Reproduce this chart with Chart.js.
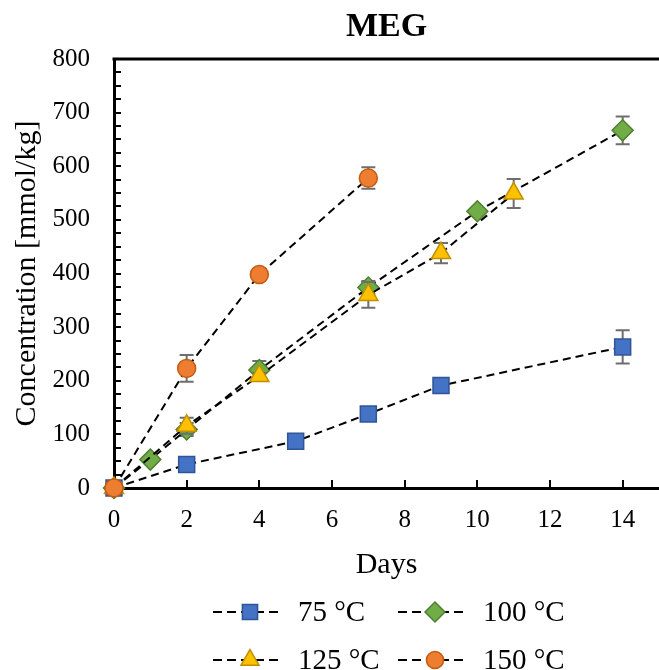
<!DOCTYPE html>
<html><head><meta charset="utf-8">
<script src="https://cdn.jsdelivr.net/npm/chart.js@4/dist/chart.umd.min.js"></script>
<style>html,body{margin:0;padding:0;background:#fff}canvas{display:block}</style>
</head><body>
<canvas id="c" width="659" height="670"></canvas>
<script>
// ---- data ----
const chartTitle = 'MEG';
const xAxisTitle = 'Days';
const yAxisTitle = 'Concentration [mmol/kg]';
const xTickValues = [0, 2, 4, 6, 8, 10, 12, 14];
const yTickValues = [0, 100, 200, 300, 400, 500, 600, 700, 800];
const seriesNames = ['75 °C', '100 °C', '125 °C', '150 °C'];

const days75 = [0, 2, 5, 7, 9, 14];
const conc75 = [0, 44, 87, 138, 191, 263];
const err75  = [0, 2, 3, 4, 4, 31];

const days100 = [0, 1, 2, 4, 7, 10, 14];
const conc100 = [0, 53, 109, 220, 374, 516, 667];
const err100  = [0, 0, 12, 17, 12, 5, 26];

const days125 = [0, 2, 4, 7, 9, 11];
const conc125 = [0, 116, 209, 360, 438, 549];
const err125  = [0, 15, 5, 24, 19, 27];

const days150 = [0, 2, 4, 7];
const conc150 = [0, 223, 398, 578];
const err150  = [0, 25, 4, 20];

// ---- build ----
const FONT = "'Liberation Serif', 'Times New Roman', serif";
const styles = [
  {pointStyle: 'rect', radius: 11.3, bg: '#4472C4', border: '#2F5597'},
  {pointStyle: 'rectRot', radius: 10.5, bg: '#70AD47', border: '#507E32'},
  {pointStyle: 'triangle', radius: 11, bg: '#FFC000', border: '#BF9000'},
  {pointStyle: 'circle', radius: 9, bg: '#ED7D31', border: '#C55A11'}
];
const allDays = [days75, days100, days125, days150];
const allConc = [conc75, conc100, conc125, conc150];
const allErr = [err75, err100, err125, err150];

const datasets = seriesNames.map((name, i) => ({
  label: name,
  data: allDays[i].map((d, j) => ({x: d, y: allConc[i][j]})),
  errors: allErr[i],
  order: 3 - i,
  clip: false,
  showLine: true,
  borderColor: '#000',
  borderWidth: 2,
  borderDash: [8, 5],
  fill: false,
  tension: 0,
  pointStyle: styles[i].pointStyle,
  pointRadius: styles[i].radius,
  pointBackgroundColor: styles[i].bg,
  pointBorderColor: styles[i].border,
  pointBorderWidth: 1.5
}));

const errorBarPlugin = {
  id: 'errorBars',
  beforeDatasetDraw(chart, args) {
    const ds = chart.data.datasets[args.index];
    const ys = chart.scales.y;
    const ctx = chart.ctx;
    ctx.save();
    ctx.strokeStyle = '#6E6E6E';
    ctx.lineWidth = 2;
    ctx.setLineDash([]);
    args.meta.data.forEach((el, j) => {
      const e = ds.errors[j];
      if (!e) return;
      const v = ds.data[j].y;
      const t = ys.getPixelForValue(v + e);
      const b = ys.getPixelForValue(v - e);
      const x = el.x;
      ctx.beginPath();
      ctx.moveTo(x, t); ctx.lineTo(x, b);
      ctx.moveTo(x - 7, t); ctx.lineTo(x + 7, t);
      ctx.moveTo(x - 7, b); ctx.lineTo(x + 7, b);
      ctx.stroke();
    });
    ctx.restore();
  }
};

const axisDecorPlugin = {
  id: 'axisDecor',
  beforeDatasetsDraw(chart) {
    const {ctx, chartArea: a, scales: {x, y}} = chart;
    ctx.save();
    ctx.strokeStyle = '#000';
    ctx.setLineDash([]);
    ctx.lineWidth = 3;
    ctx.beginPath();
    ctx.moveTo(a.left - 1.5, a.top); ctx.lineTo(a.right, a.top);
    ctx.stroke();
    ctx.lineWidth = 2;
    ctx.beginPath();
    for (let v = y.min; v <= y.max; v += 25) {
      const py = Math.round(y.getPixelForValue(v));
      ctx.moveTo(a.left, py); ctx.lineTo(a.left + 7, py);
    }
    xTickValues.forEach(v => {
      const px = Math.round(x.getPixelForValue(v));
      ctx.moveTo(px, a.bottom); ctx.lineTo(px, a.bottom - 8);
    });
    ctx.stroke();
    ctx.restore();
  }
};

const legendPlugin = {
  id: 'customLegend',
  afterDraw(chart) {
    const ctx = chart.ctx;
    const colX = [213, 398];
    const rowY = [612, 660];
    ctx.save();
    chart.data.datasets.forEach((ds, i) => {
      const x0 = colX[i % 2];
      const yy = rowY[Math.floor(i / 2)];
      ctx.strokeStyle = '#000';
      ctx.lineWidth = 2;
      ctx.setLineDash([9, 5]);
      ctx.beginPath();
      ctx.moveTo(x0, yy); ctx.lineTo(x0 + 70, yy);
      ctx.stroke();
      ctx.setLineDash([]);
      ctx.fillStyle = ds.pointBackgroundColor;
      ctx.strokeStyle = ds.pointBorderColor;
      ctx.lineWidth = 1.5;
      Chart.helpers.drawPoint(ctx, {pointStyle: ds.pointStyle, radius: ds.pointRadius * 0.95, rotation: 0, borderWidth: 1.5}, x0 + 37, yy);
      ctx.fillStyle = '#000';
      ctx.font = "29px " + FONT;
      ctx.textAlign = 'left';
      ctx.textBaseline = 'middle';
      ctx.fillText(ds.label, x0 + 85, yy + 1);
    });
    ctx.restore();
  }
};

new Chart(document.getElementById('c'), {
  type: 'scatter',
  data: {datasets},
  options: {
    responsive: false,
    animation: false,
    devicePixelRatio: 1,
    layout: {autoPadding: false, padding: {left: 0, right: 0, top: 0, bottom: 84.6}},
    plugins: {
      legend: {display: false},
      tooltip: {enabled: false},
      title: {
        display: true, text: chartTitle, fullSize: false,
        color: '#000', font: {family: FONT, size: 34, weight: 'bold'},
        padding: {top: 7, bottom: 11.2}
      }
    },
    scales: {
      x: {
        type: 'linear', min: 0, max: 15,
        afterBuildTicks: s => { s.ticks = xTickValues.map(v => ({value: v})); },
        afterFit: s => { s.height = 97.4; s.paddingRight = 0; s.paddingLeft = 0; },
        grid: {display: false, drawTicks: false},
        border: {display: true, color: '#000', width: 3},
        ticks: {color: '#000', font: {family: FONT, size: 25}, padding: 17, maxRotation: 0},
        title: {display: true, text: xAxisTitle, color: '#000', font: {family: FONT, size: 30}, padding: {top: 10, bottom: 2.4}}
      },
      y: {
        type: 'linear', min: 0, max: 800,
        afterBuildTicks: s => { s.ticks = yTickValues.map(v => ({value: v})); },
        afterFit: s => { s.width = 114; s.paddingTop = 0; s.paddingBottom = 0; },
        grid: {display: false, drawTicks: false},
        border: {display: true, color: '#000', width: 3},
        ticks: {color: '#000', font: {family: FONT, size: 25}, padding: 24},
        title: {display: true, text: yAxisTitle, color: '#000', font: {family: FONT, size: 30}, padding: {top: 9, bottom: 10}}
      }
    }
  },
  plugins: [errorBarPlugin, axisDecorPlugin, legendPlugin]
});
</script>
</body></html>
